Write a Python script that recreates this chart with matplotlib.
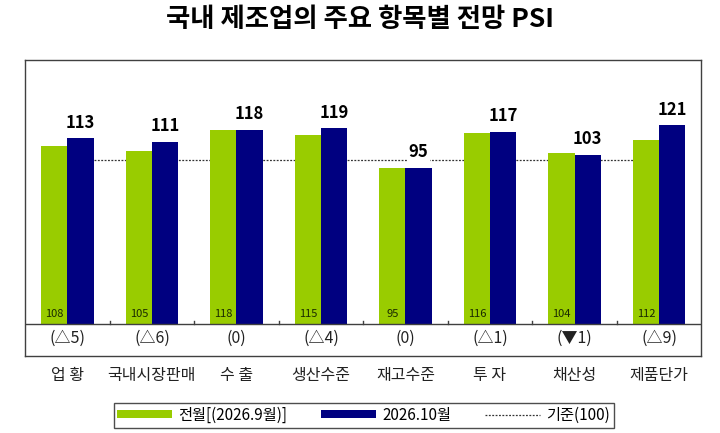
import numpy as np
import matplotlib.pyplot as plt

plt.rcParams['font.family'] = ['Noto Sans CJK KR', 'DejaVu Sans']

categories = ["업 황", "국내시장판매", "수 출", "생산수준", "재고수준", "투 자", "채산성", "제품단가"]
prev_month = [108, 105, 118, 115, 95, 116, 104, 112]
this_month = [113, 111, 118, 119, 95, 117, 103, 121]
changes = ["(△5)", "(△6)", "(0)", "(△4)", "(0)", "(△1)", "(▼1)", "(△9)"]
baseline = 100

green = "#99CC00"
navy = "#000080"

fig = plt.figure(figsize=(7.2, 4.33), dpi=100)
ax = fig.add_axes([0.035, 0.178, 0.939, 0.683])

x = np.arange(len(categories))
w = 0.31

b1 = ax.bar(x - w / 2, prev_month, w, color=green, zorder=3, label="전월[(2026.9월)]")
b2 = ax.bar(x + w / 2, this_month, w, color=navy, zorder=3, label="2026.10월")
ln, = ax.plot([x[0], x[-1]], [baseline, baseline], color="#333333", lw=0.9,
              ls=(0, (1.5, 1.2)), zorder=2, label="기준(100)")

for i in range(len(categories)):
    box = dict(facecolor="white", edgecolor="none", pad=1) if this_month[i] < baseline else None
    ax.text(x[i] + w / 2, this_month[i] + 4, str(this_month[i]), ha="center", va="bottom",
            fontsize=12, fontweight="bold", color="black", zorder=4, bbox=box)
    ax.text(x[i] - w / 2, 3, str(prev_month[i]), ha="center", va="bottom",
            fontsize=8, color="#1a2a00", zorder=4)
    ax.text(x[i], -9, changes[i], ha="center", va="center", fontsize=11.5, color="#222222")
    ax.text(x[i], -31.5, categories[i], ha="center", va="center", fontsize=11.5, color="#222222",
            clip_on=False)

ax.axhline(0, color="#404040", lw=1, zorder=5)
for s in x[:-1] + 0.5:
    ax.plot([s, s], [0, 1.6], color="#404040", lw=1, zorder=5)

ax.set_xlim(-0.5, 7.5)
ax.set_ylim(-19.5, 160.5)
ax.set_xticks([])
ax.set_yticks([])
for sp in ax.spines.values():
    sp.set_color("#404040")
    sp.set_linewidth(1)

fig.text(0.5, 0.955, "국내 제조업의 주요 항목별 전망 PSI", ha="center", va="center",
         fontsize=19, fontweight="bold")

leg = fig.legend(handles=[b1, b2, ln], loc="center", bbox_to_anchor=(0.505, 0.041), ncol=3,
                 frameon=True, fancybox=False, edgecolor="#222222", fontsize=11,
                 handlelength=3.6, handleheight=0.45, columnspacing=2.2, handletextpad=0.4,
                 borderpad=0.25)
leg.get_frame().set_linewidth(1)

plt.savefig("out.png", dpi=100)
